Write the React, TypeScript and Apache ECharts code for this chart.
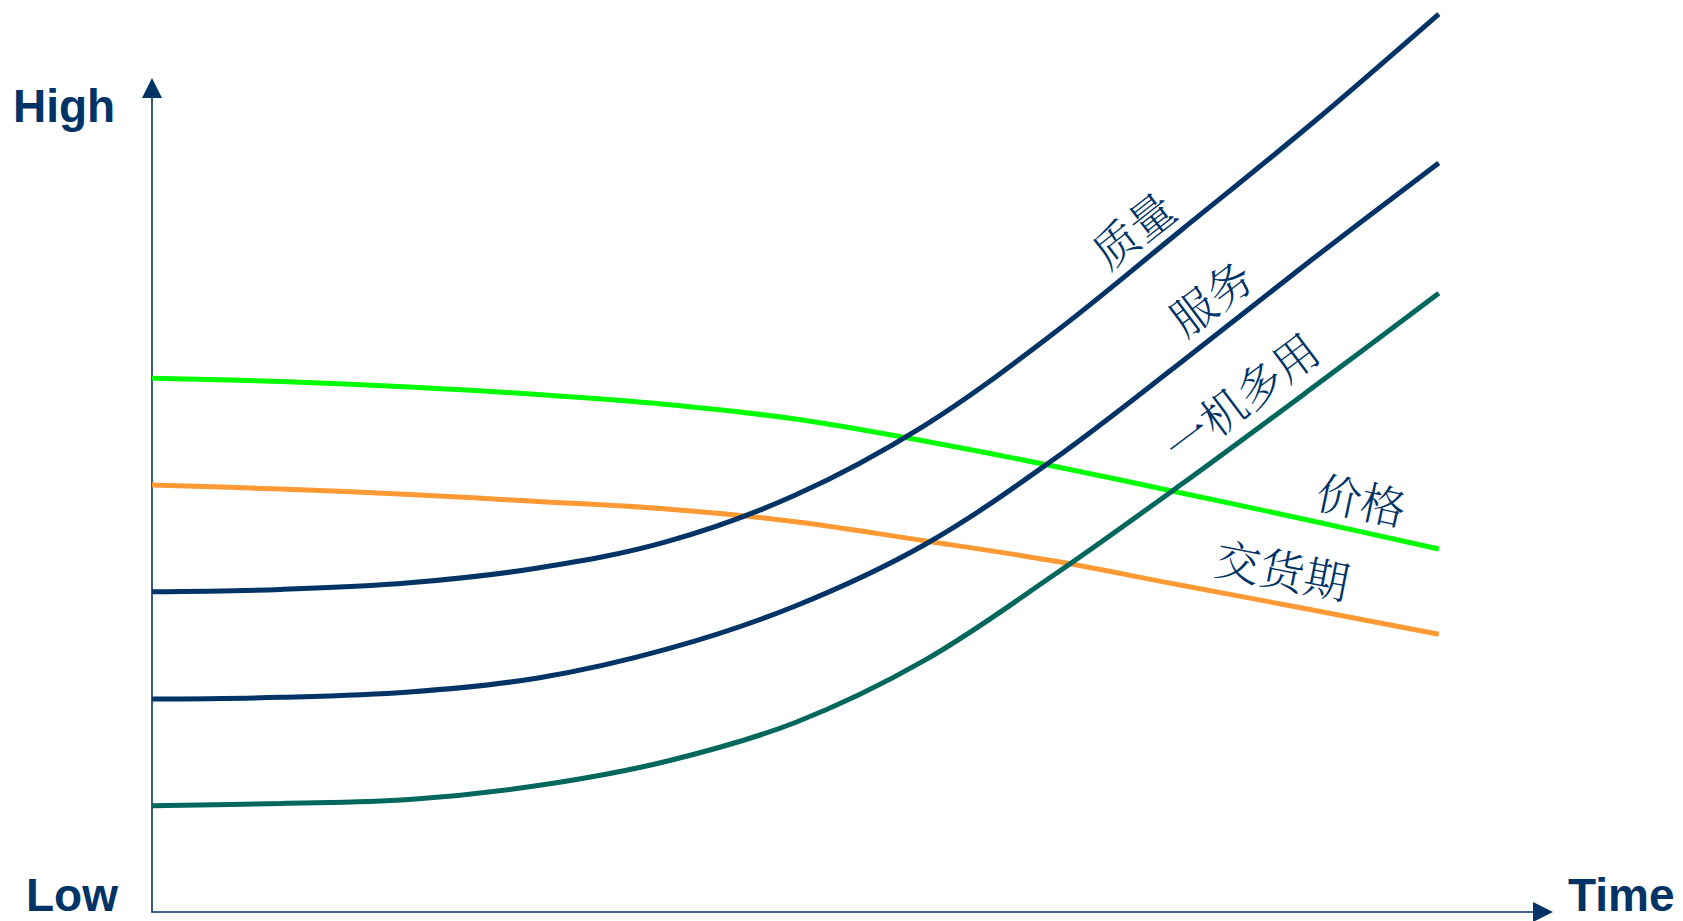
import React, { useEffect, useRef } from "react";
import * as echarts from "echarts";

// Time positions (arbitrary time units) at which the curves were read
const timePoints = [0, 10, 20, 30, 40, 50, 60, 70, 80, 90, 100];

// Values (0 = Low, 100 = High)
const quality = [38.87, 39.15, 39.95, 41.75, 44.95, 50.6, 59.0, 70.15, 82.77, 95.51, 108.98];
const service = [25.85, 26.05, 26.7, 28.4, 31.9, 37.14, 44.54, 54.85, 66.75, 79.0, 90.9];
const multiUse = [12.9, 13.17, 13.65, 15.35, 18.3, 23.0, 30.5, 40.8, 51.9, 63.4, 75.1];
const price = [64.77, 64.38, 63.71, 62.8, 61.59, 59.83, 57.16, 54.13, 50.85, 47.51, 44.05];
const delivery = [51.82, 51.33, 50.67, 49.82, 48.91, 47.37, 45.06, 42.62, 39.65, 36.71, 33.7];

const seriesNames = ["价格", "交货期", "质量", "服务", "一机多用"];
const seriesValues = [price, delivery, quality, service, multiUse];
const seriesColors = ["#00ff00", "#ff9933", "#003366", "#003366", "#00675c"];

// Curve labels: anchor in data units, rotation in degrees
const labelTexts = ["质量", "服务", "一机多用", "价格", "交货期"];
const labelAnchors = [
  [76.15, 83.0],
  [82.2, 74.76],
  [84.54, 62.62],
  [94.02, 50.24],
  [87.88, 41.75],
];
const labelAngles = [38, 37, 37, -12, -11];

const axisLabels = ["High", "Low", "Time"];

const NAVY = "#003366";

export default function App() {
  const ref = useRef<HTMLDivElement>(null);

  useEffect(() => {
    if (!ref.current) return;
    const chart = echarts.init(ref.current, null, { renderer: "svg" });

    const axisCommon = {
      type: "value" as const,
      axisTick: { show: false },
      axisLabel: { show: false },
      splitLine: { show: false },
      axisLine: {
        show: true,
        symbol: ["none", "triangle"],
        symbolSize: [20, 20],
        lineStyle: { color: NAVY, width: 1.6 },
      },
    };

    chart.setOption({
      animation: false,
      backgroundColor: "#ffffff",
      grid: { left: 152, right: 140, top: 88, bottom: 9, containLabel: false },
      xAxis: { ...axisCommon, min: 0, max: 108.1 },
      yAxis: { ...axisCommon, min: 0, max: 100 },
      series: seriesNames.map((name, i) => ({
        name,
        type: "line",
        smooth: 0.35,
        showSymbol: false,
        clip: false,
        z: 2 + i,
        lineStyle: { color: seriesColors[i], width: 5, cap: "butt" },
        data: timePoints.map((t, k) => [t, seriesValues[i][k]]),
      })),
    });

    const curveLabels = labelTexts.map((text, i) => {
      const p = chart.convertToPixel({ gridIndex: 0 }, labelAnchors[i]) as number[];
      return {
        type: "text",
        x: p[0],
        y: p[1],
        rotation: (labelAngles[i] * Math.PI) / 180,
        z: 10,
        style: {
          text,
          fill: NAVY,
          fontSize: 45,
          fontWeight: 300,
          fontFamily: '"Noto Serif CJK SC", "Noto Sans CJK SC", serif',
          align: "center",
          verticalAlign: "middle",
        },
      };
    });

    const bold = {
      fill: NAVY,
      fontSize: 46,
      fontWeight: "bold",
      fontFamily: '"Liberation Sans", Arial, sans-serif',
    };

    chart.setOption({
      graphic: [
        ...curveLabels,
        { type: "text", left: 13, top: 83, z: 10, style: { ...bold, text: axisLabels[0] } },
        { type: "text", left: 26, top: 872, z: 10, style: { ...bold, text: axisLabels[1] } },
        { type: "text", left: 1568, top: 872, z: 10, style: { ...bold, text: axisLabels[2] } },
      ],
    });

    return () => chart.dispose();
  }, []);

  return (
    <div
      ref={ref}
      style={{ position: "absolute", left: 0, top: 0, width: 1683, height: 921 }}
    />
  );
}
